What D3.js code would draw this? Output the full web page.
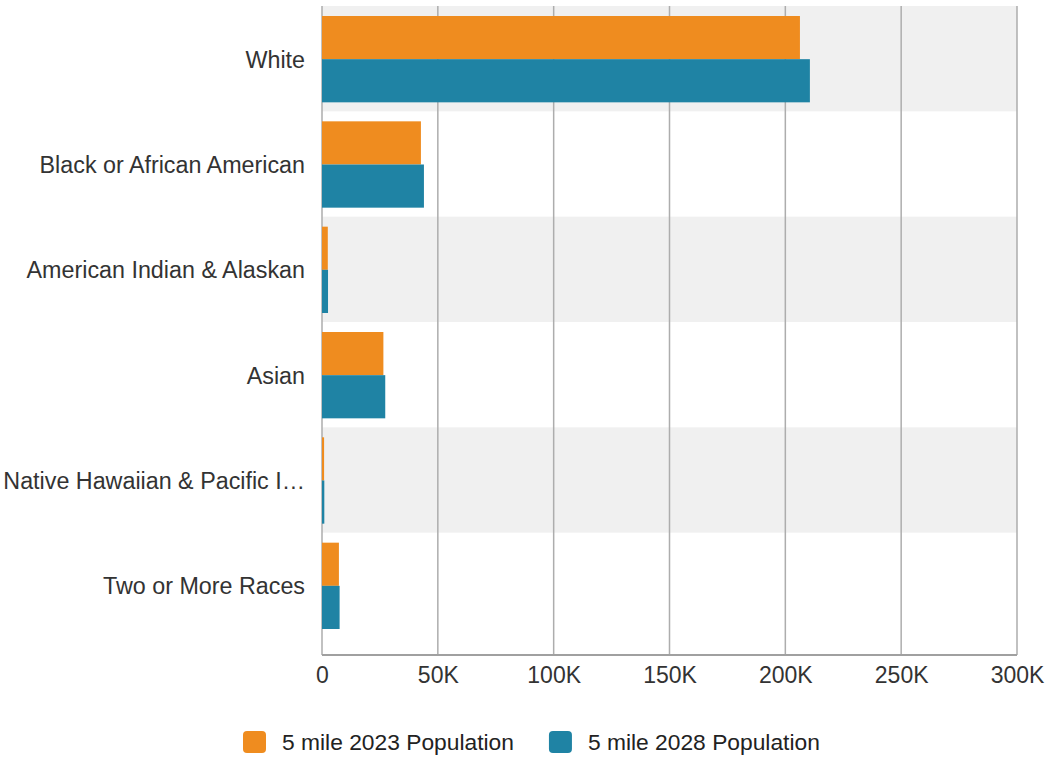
<!DOCTYPE html>
<html>
<head>
<meta charset="utf-8">
<script src="https://cdn.jsdelivr.net/npm/d3@7"></script>
<style>
  body { margin: 0; background: #fff; }
  svg text { font-family: "Liberation Sans", Arial, Helvetica, sans-serif; fill: #333; }
</style>
</head>
<body>
<div id="chart"></div>
<script>
var categories = ["White", "Black or African American", "American Indian & Alaskan", "Asian",
    "Native Hawaiian & Pacific I\u2026", "Two or More Races"];
var pop2023 = [206300, 42700, 2500, 26500, 900, 7300];
var pop2028 = [210600, 44000, 2600, 27300, 1000, 7600];
var seriesNames = ["5 mile 2023 Population", "5 mile 2028 Population"];
var seriesColors = ["#ef8c1f", "#1f83a4"];
var xTicks = [0, 50000, 100000, 150000, 200000, 250000, 300000];

render();

function render() {

    var w = 1050, h = 759;
    var margin = {top: 6, right: 33, left: 322, axisY: 655, bandBottom: 638};

    var svg = d3.select("#chart").append("svg")
        .attr("width", w)
        .attr("height", h);

    var x = d3.scaleLinear()
        .domain([0, 300000])
        .range([margin.left, w - margin.right]);

    var y = d3.scaleBand()
        .domain(categories)
        .range([margin.top, margin.bandBottom]);

    var step = y.step();
    var inner = d3.scaleBand()
        .domain([0, 1])
        .range([10, step - 9]);

    // alternating row shading
    svg.selectAll(".row")
        .data(categories.filter(function (d, i) { return i % 2 === 0; }))
        .enter().append("rect")
        .attr("class", "row")
        .attr("x", x(0))
        .attr("y", function (d) { return y(d); })
        .attr("width", x(300000) - x(0))
        .attr("height", step)
        .style("fill", "#f0f0f0");

    // vertical grid
    svg.selectAll(".grid")
        .data(xTicks)
        .enter().append("line")
        .attr("class", "grid")
        .attr("x1", function (d) { return x(d); })
        .attr("x2", function (d) { return x(d); })
        .attr("y1", margin.top)
        .attr("y2", margin.axisY)
        .style("stroke", "#adadad")
        .style("stroke-width", 1.5);

    // bars
    var rows = categories.map(function (c, i) {
        return {cat: c, values: [pop2023[i], pop2028[i]]};
    });

    var group = svg.selectAll(".cat")
        .data(rows)
        .enter().append("g")
        .attr("class", "cat")
        .attr("transform", function (d) {
            return "translate(0," + y(d.cat) + ")";
        });

    group.selectAll("rect")
        .data(function (d) { return d.values; })
        .enter().append("rect")
        .attr("x", x(0))
        .attr("y", function (d, i) { return inner(i); })
        .attr("width", function (d) { return x(d) - x(0); })
        .attr("height", inner.bandwidth())
        .style("fill", function (d, i) { return seriesColors[i]; });

    // category labels
    svg.selectAll(".catLabel")
        .data(categories)
        .enter().append("text")
        .attr("class", "catLabel")
        .attr("x", 305)
        .attr("y", function (d) { return y(d) + step / 2 + 1; })
        .attr("dy", "0.35em")
        .attr("text-anchor", "end")
        .style("font-size", "23.3px")
        .text(function (d) { return d; });

    // x axis
    var axis = svg.append("g")
        .attr("transform", "translate(0," + margin.axisY + ")")
        .call(d3.axisBottom(x)
            .tickValues(xTicks)
            .tickSize(0)
            .tickPadding(12)
            .tickFormat(function (d) { return d === 0 ? "0" : (d / 1000) + "K"; }));

    axis.select(".domain")
        .attr("d", "M" + x(0) + ",0H" + x(300000))
        .style("stroke", "#a0a0a0")
        .style("stroke-width", 2);

    axis.selectAll("text")
        .style("font-size", "23px")
        .style("fill", "#333")
        .style("font-family", "'Liberation Sans', Arial, sans-serif");

    // legend
    var legend = svg.append("g").attr("transform", "translate(0,742)");
    var items = legend.selectAll(".item")
        .data(seriesNames)
        .enter().append("g")
        .attr("class", "item");

    items.append("rect")
        .attr("x", 0)
        .attr("y", -11)
        .attr("width", 23)
        .attr("height", 22)
        .attr("rx", 4)
        .style("fill", function (d, i) { return seriesColors[i]; });

    items.append("text")
        .attr("x", 39)
        .attr("y", 0)
        .attr("dy", "0.35em")
        .style("font-size", "22.8px")
        .style("fill", "#222")
        .text(function (d) { return d; });

    var offset = 243;
    items.each(function () {
        var g = d3.select(this);
        g.attr("transform", "translate(" + offset + ",0)");
        offset += 39 + g.select("text").node().getComputedTextLength() + 35;
    });
}
</script>
</body>
</html>
